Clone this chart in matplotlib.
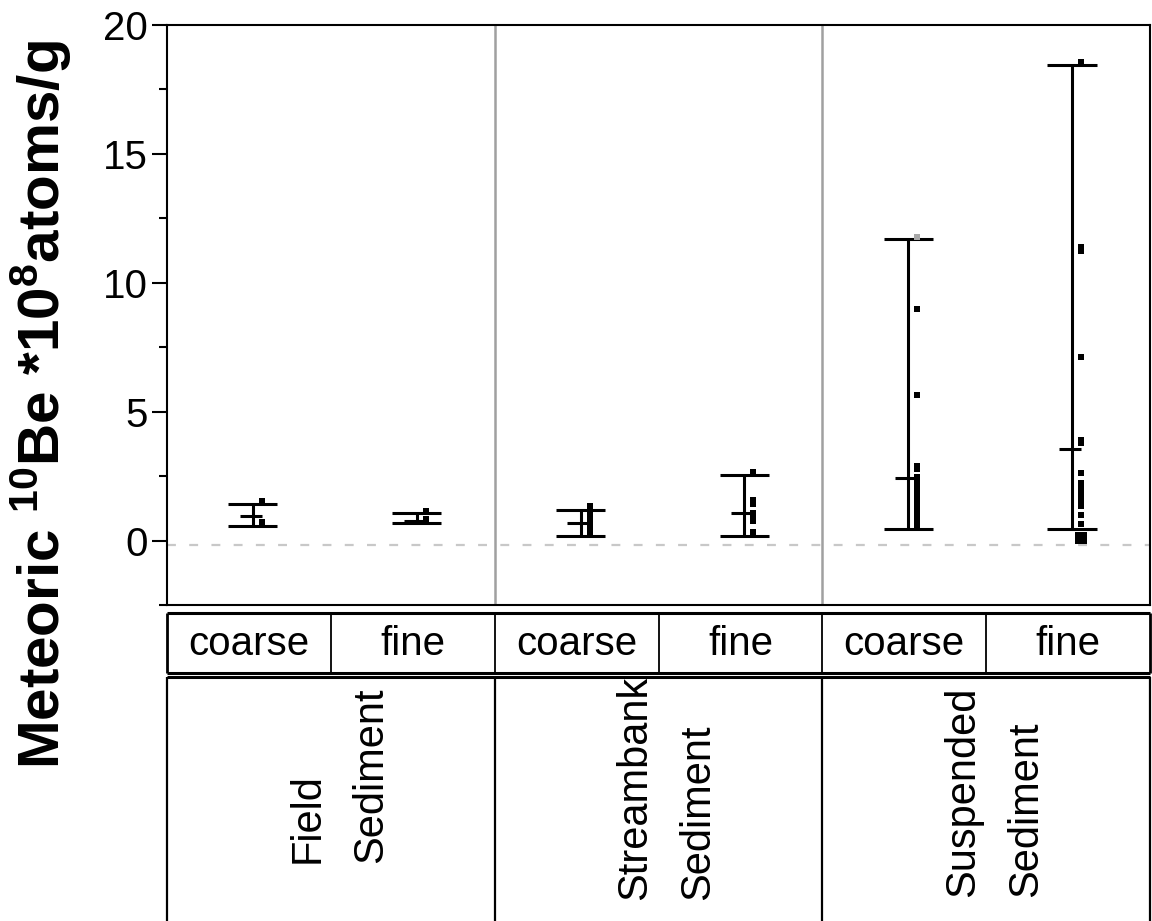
import numpy as np
import matplotlib.pyplot as plt
from matplotlib.ticker import MultipleLocator

plt.rcParams['font.family'] = ['Liberation Sans', 'DejaVu Sans']
plt.rcParams['mathtext.fontset'] = 'custom'
plt.rcParams['mathtext.rm'] = 'Liberation Sans'
plt.rcParams['mathtext.bf'] = 'Liberation Sans:bold'

# categories
groups = ['Field\nSediment', 'Streambank\nSediment', 'Suspended\nSediment']
fractions = ['coarse', 'fine', 'coarse', 'fine', 'coarse', 'fine']

# summary bars: low cap, high cap, middle tick
lows = [0.58, 0.70, 0.19, 0.19, 0.44, 0.44]
highs = [1.43, 1.05, 1.18, 2.56, 11.69, 18.45]
mids = [0.96, 0.75, 0.69, 1.07, 2.44, 3.55]

# individual samples
points = [
    [1.55, 0.71],
    [1.16, 0.84, 0.78],
    [1.33, 1.15, 1.02, 0.90, 0.80, 0.70, 0.55, 0.32],
    [2.66, 1.56, 1.43, 1.05, 0.95, 0.85, 0.75, 0.34],
    [9.00, 5.64, 2.88, 2.78, 2.48, 2.30, 2.10, 1.90, 1.70, 1.47, 1.30,
     1.10, 0.90, 0.70, 0.55],
    [18.55, 11.40, 11.25, 7.13, 3.91, 3.80, 2.63, 2.25, 2.10, 1.95, 1.80,
     1.65, 1.50, 1.35, 1.00, 0.66],
]
grey_point = (4, 11.78)
big_point = (5, 0.08)

fig = plt.figure(figsize=(11.52, 9.21), dpi=100)
W, H = 1152, 921
ax = fig.add_axes([167 / W, 1 - 605 / H, (1150 - 167) / W, (605 - 25) / H])

ax.set_xlim(0, 6)
ax.set_ylim(-2.5, 20)

xc = np.arange(6) + 0.5 + 0.024
ax.vlines(xc, lows, highs, color='black', lw=2.2)
ax.hlines(lows, xc - 0.15, xc + 0.15, color='black', lw=2.2)
ax.hlines(highs, xc - 0.15, xc + 0.15, color='black', lw=2.2)
ax.hlines(mids, xc - 0.08, xc + 0.055, color='black', lw=2.2)

for i, pts in enumerate(points):
    ax.plot(np.full(len(pts), xc[i] + 0.055), pts, 's', color='black',
            ms=3.8, mew=0)
ax.plot(xc[grey_point[0]] + 0.055, grey_point[1], 's', color='#a8a8a8',
        ms=4.5, mew=0)
ax.plot(xc[big_point[0]] + 0.055, big_point[1], 's', color='black',
        ms=9, mew=0)

ax.axhline(-0.18, color='#c8c8c8', lw=1.6, dashes=(4, 6), zorder=0)
for xg in [2, 4]:
    ax.axvline(xg, color='#a0a0a0', lw=1.8)

for sp in ax.spines.values():
    sp.set_linewidth(1.5)
ax.set_xticks([])
ax.yaxis.set_major_locator(MultipleLocator(5))
ax.yaxis.set_minor_locator(MultipleLocator(2.5))
ax.tick_params(axis='y', which='major', length=11, width=1.5, labelsize=29,
               pad=3)
ax.tick_params(axis='y', which='minor', length=6, width=1.5)

fig.text(41 / W, 1 - 405 / H,
         r'Meteoric $\mathbf{^{10}}$Be *10$\mathbf{^{8}}$atoms/g',
         rotation=90, ha='center', va='center', fontsize=42,
         fontweight='bold')

# category table underneath
tb = fig.add_axes([167 / W, 0, (1150 - 167) / W, (921 - 608) / H])
tb.set_xlim(0, 6)
tb.set_ylim(921, 608)
tb.axis('off')

r1_top, r1_bot, r2_top = 613, 673, 677
tb.hlines([r1_top, r1_bot, r2_top], 0, 6, color='black', lw=2.2,
          clip_on=False)
tb.vlines([0, 6], r1_top, r1_bot, color='black', lw=2, clip_on=False)
tb.vlines([1, 2, 3, 4, 5], r1_top, r1_bot, color='black', lw=1.3)
tb.vlines([0, 2, 4, 6], r2_top, 921, color='black', lw=1.6, clip_on=False)

for i, f in enumerate(fractions):
    tb.text(i + 0.5, (r1_top + r1_bot) / 2 + 1, f, ha='center', va='center',
            fontsize=29)

label_y = [775, 788, 792]
for g, (name, yy) in enumerate(zip(groups, label_y)):
    tb.text(2 * g + 1.05, yy, name, rotation=90, ha='center', va='center',
            multialignment='left', fontsize=30, linespacing=1.75)

fig.savefig('out.png', dpi=100)
